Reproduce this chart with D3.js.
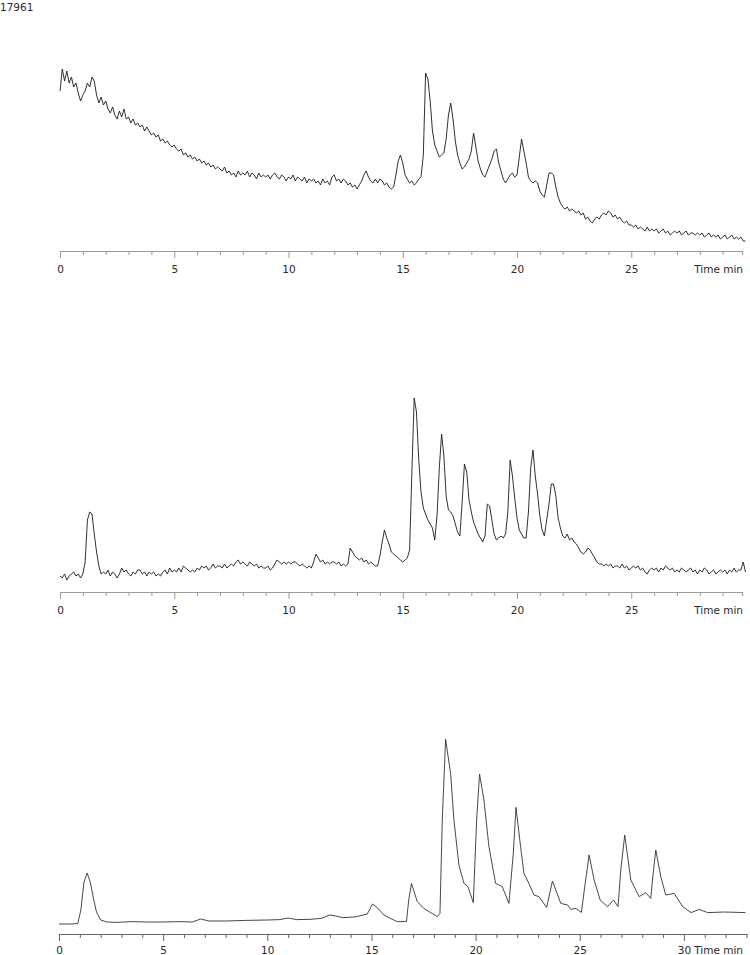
<!DOCTYPE html>
<html>
<head>
<meta charset="utf-8">
<script src="https://cdn.jsdelivr.net/npm/d3@7"></script>
<style>
  body { margin: 0; background: white; }
  svg { display: block; }
  .lbl { font-family: "DejaVu Sans", Verdana, sans-serif; font-size: 10.5px; fill: #2a2a2a; }
</style>
</head>
<body>
<div id="chart"></div>
<script>
// sample id printed at top left
var sampleId = '17961';
var axisTitle = 'Time min';

// trace 1 and 2 are sampled every 0.1 min from 0 to 30 min (relative intensity)
var sampleStep = 0.1;

var trace1 = [
  80, 91, 85, 90, 84, 87, 82, 84, 79, 75,
  78, 80, 84, 82, 87, 85, 78, 74, 77, 73,
  75, 71, 69, 72, 68, 66, 70, 67, 71, 66,
  67, 64, 66, 63, 64, 62, 63, 60, 62, 60,
  58, 59, 57, 58, 55, 56, 54, 55, 53, 52,
  53, 51, 50, 51, 48, 49, 47, 48, 46, 47,
  45, 46, 44, 45, 43, 44, 42, 43, 41, 42,
  41, 40, 42, 39, 40, 38, 39, 37, 40, 38,
  39, 38, 40, 37, 39, 38, 36, 39, 37, 38,
  37, 38, 36, 38, 39, 37, 36, 38, 37, 35,
  37, 36, 38, 35, 37, 36, 35, 37, 34, 36,
  35, 36, 34, 35, 33, 36, 34, 35, 33, 37,
  38, 35, 36, 34, 36, 35, 33, 34, 32, 33,
  31, 33, 35, 38, 40, 37, 35, 34, 36, 34,
  36, 35, 33, 34, 32, 31, 32, 38, 45, 48,
  44, 38, 36, 34, 35, 33, 34, 36, 37, 48,
  89, 86, 75, 60, 53, 50, 47, 48, 49, 56,
  68, 74, 66, 55, 48, 44, 41, 42, 44, 46,
  50, 59, 52, 45, 41, 38, 37, 40, 43, 46,
  50, 51, 44, 40, 36, 34, 36, 38, 39, 37,
  38, 47, 56, 50, 44, 37, 35, 34, 35, 34,
  30, 28, 27, 33, 39, 39, 38, 32, 27, 24,
  22, 21, 22, 20, 21, 20, 19, 20, 18, 19,
  16, 17, 15, 14, 16, 17, 16, 18, 19, 18,
  20, 19, 17, 18, 16, 17, 15, 14, 15, 13,
  13, 12, 13, 11, 12, 11, 10, 12, 10, 11,
  10, 11, 9, 10, 11, 9, 10, 8, 9, 10,
  9, 10, 8, 9, 10, 8, 9, 9, 8, 9,
  8, 9, 7, 8, 9, 7, 8, 7, 8, 6,
  7, 8, 6, 7, 8, 6, 7, 6, 7, 5,
  5
];

var trace2 = [
  8, 7, 9, 6, 8, 9, 10, 8, 9, 7,
  9, 15, 36, 40, 39, 29, 20, 13, 9, 10,
  9, 11, 8, 10, 9, 7, 9, 12, 10, 11,
  9, 8, 10, 9, 11, 11, 9, 10, 8, 10,
  9, 10, 8, 9, 8, 10, 11, 9, 12, 10,
  11, 10, 12, 10, 13, 12, 11, 10, 11, 10,
  12, 11, 13, 12, 13, 11, 12, 14, 12, 13,
  13, 12, 14, 12, 13, 14, 13, 15, 16, 14,
  15, 14, 13, 15, 14, 13, 14, 12, 13, 12,
  12, 13, 11, 12, 14, 16, 15, 14, 15, 14,
  15, 14, 15, 15, 14, 13, 14, 13, 12, 13,
  12, 15, 19, 17, 15, 16, 14, 15, 14, 15,
  15, 14, 15, 13, 14, 13, 14, 22, 20, 18,
  17, 16, 17, 15, 16, 14, 15, 14, 13, 13,
  18, 25, 31, 27, 24, 20, 19, 18, 17, 16,
  15, 16, 17, 21, 60, 97, 90, 66, 50, 42,
  39, 36, 34, 32, 26, 38, 62, 79, 68, 48,
  41, 40, 38, 34, 30, 28, 45, 64, 60, 46,
  40, 35, 32, 29, 27, 25, 28, 44, 43, 36,
  29, 26, 27, 28, 27, 29, 40, 66, 58, 47,
  37, 31, 29, 27, 27, 40, 62, 71, 58, 49,
  38, 31, 28, 36, 44, 54, 54, 48, 37, 32,
  28, 27, 29, 26, 27, 25, 24, 22, 20, 19,
  20, 22, 21, 19, 17, 15, 14, 14, 13, 14,
  13, 14, 12, 13, 13, 12, 14, 12, 13, 11,
  12, 13, 12, 13, 11, 12, 10, 9, 11, 12,
  11, 12, 10, 12, 11, 13, 12, 11, 12, 10,
  11, 10, 12, 11, 10, 11, 12, 10, 11, 9,
  11, 10, 12, 11, 9, 10, 11, 9, 10, 11,
  10, 11, 9, 11, 10, 12, 10, 11, 11, 15,
  10
];

// trace 3 is smooth, read as [time, intensity] points
var trace3 = [
  [0, 5], [0.5, 5], [0.9, 5.2], [1.05, 12], [1.2, 26], [1.35, 30.5], [1.5, 26],
  [1.65, 18], [1.8, 11], [2.0, 7], [2.3, 6], [2.8, 5.8], [3.5, 6.2], [4.2, 6],
  [5, 6], [5.8, 6.2], [6.4, 6], [6.8, 7.5], [7.2, 6.5], [8, 6.5], [9, 6.8],
  [10, 7], [10.6, 7.2], [11, 8], [11.4, 7.2], [12, 7.3], [12.6, 7.8], [13, 9.5],
  [13.3, 9], [13.6, 8.2], [14.2, 8.5], [14.8, 10], [15.05, 15], [15.3, 13],
  [15.6, 9.5], [15.91, 7.8], [16.24, 6.2], [16.68, 6.2], [16.79, 17], [16.92, 25.3],
  [17.2, 16.2], [17.51, 12.8], [17.84, 10.7], [18.16, 8.7], [18.29, 10.3],
  [18.4, 57], [18.56, 97.3], [18.8, 80.3], [18.96, 57], [19.2, 34.5], [19.44, 25.3],
  [19.63, 23.7], [19.89, 15.7], [20.05, 57], [20.19, 80], [20.4, 67], [20.64, 43.7],
  [20.96, 25.3], [21.28, 23.7], [21.6, 15.3], [21.81, 40.3], [21.94, 63.3],
  [22.16, 43.7], [22.32, 30.3], [22.56, 25.3], [22.8, 19.5], [23.04, 18.7],
  [23.41, 13.3], [23.69, 26.5], [24.09, 15.3], [24.42, 14.5], [24.57, 12.3],
  [24.81, 12.8], [25.08, 10.8], [25.24, 23.7], [25.45, 39.5], [25.69, 27],
  [25.98, 17], [26.33, 13.7], [26.62, 17], [26.84, 13.7], [26.97, 32], [27.16, 49.5],
  [27.45, 27], [27.85, 18.7], [28.17, 20.7], [28.41, 17.8], [28.49, 27], [28.65, 42],
  [28.89, 28.7], [29.13, 19.5], [29.53, 20.3], [29.94, 13.7], [30.34, 10.7],
  [30.74, 12.3], [31.14, 10.7], [31.94, 11], [32.95, 10.7]
];

// axis ends (minutes) and labelled ticks
var axisEnd1 = 29.85;
var axisEnd3 = 33;
var labelTicks1 = [0, 5, 10, 15, 20, 25];
var labelTicks3 = [0, 5, 10, 15, 20, 25, 30];

var width = 750;
var height = 955;

var svg = d3.select('#chart').append('svg')
    .attr('width', width)
    .attr('height', height);

svg.append('text')
    .attr('class', 'lbl')
    .attr('x', 0)
    .attr('y', 10.5)
    .text(sampleId);

function toPoints(vals) {
    return vals.map((v, i) => [i * sampleStep, v]);
}

var panels = [
    { pts: toPoints(trace1), axisY: 251, x0: 60, pxPerMin: 22.85, end: axisEnd1, labels: labelTicks1, labelBase: 22, axisColor: '#9a9a9a', lineColor: '#1a1a1a' },
    { pts: toPoints(trace2), axisY: 592, x0: 60, pxPerMin: 22.85, end: axisEnd1, labels: labelTicks1, labelBase: 22, axisColor: '#9a9a9a', lineColor: '#1a1a1a' },
    { pts: trace3, axisY: 934, x0: 59, pxPerMin: 20.83, end: axisEnd3, labels: labelTicks3, labelBase: 19.5, axisColor: '#666', lineColor: '#333' }
];

panels.forEach(p => {
    var xScale = d3.scaleLinear()
        .domain([0, p.end])
        .range([p.x0, p.x0 + p.end * p.pxPerMin]);

    // 100 intensity units = 200 px
    var yScale = d3.scaleLinear()
        .domain([0, 100])
        .range([p.axisY, p.axisY - 200]);

    var minorTicks = d3.range(0, Math.floor(p.end) + 1).filter(t => t % 5 !== 0);
    if (p.end % 1 !== 0) minorTicks.push(p.end);

    var g = svg.append('g').attr('transform', `translate(0,${p.axisY})`);

    var minorAxis = d3.axisBottom(xScale)
        .tickValues(minorTicks)
        .tickSize(4)
        .tickSizeOuter(0)
        .tickFormat('');

    var majorAxis = d3.axisBottom(xScale)
        .tickValues(p.labels)
        .tickSize(7)
        .tickSizeOuter(0);

    g.append('g').call(minorAxis);
    g.append('g').call(majorAxis);

    g.selectAll('.domain')
        .attr('stroke', p.axisColor)
        .attr('d', `M${xScale(0)},0.5H${xScale(p.end) + 1}`);
    g.selectAll('.tick line').attr('stroke', p.axisColor);
    g.selectAll('.tick text')
        .attr('class', 'lbl')
        .attr('font-family', null)
        .attr('font-size', null)
        .attr('fill', null)
        .attr('y', p.labelBase)
        .attr('dy', null);

    g.append('text')
        .attr('class', 'lbl')
        .attr('x', 743)
        .attr('y', p.labelBase)
        .attr('text-anchor', 'end')
        .text(axisTitle);

    var line = d3.line()
        .x(d => xScale(d[0]))
        .y(d => yScale(d[1]));

    svg.append('path')
        .datum(p.pts)
        .attr('fill', 'none')
        .attr('stroke', p.lineColor)
        .attr('stroke-width', 0.9)
        .attr('stroke-linejoin', 'round')
        .attr('d', line);
});
</script>
</body>
</html>
